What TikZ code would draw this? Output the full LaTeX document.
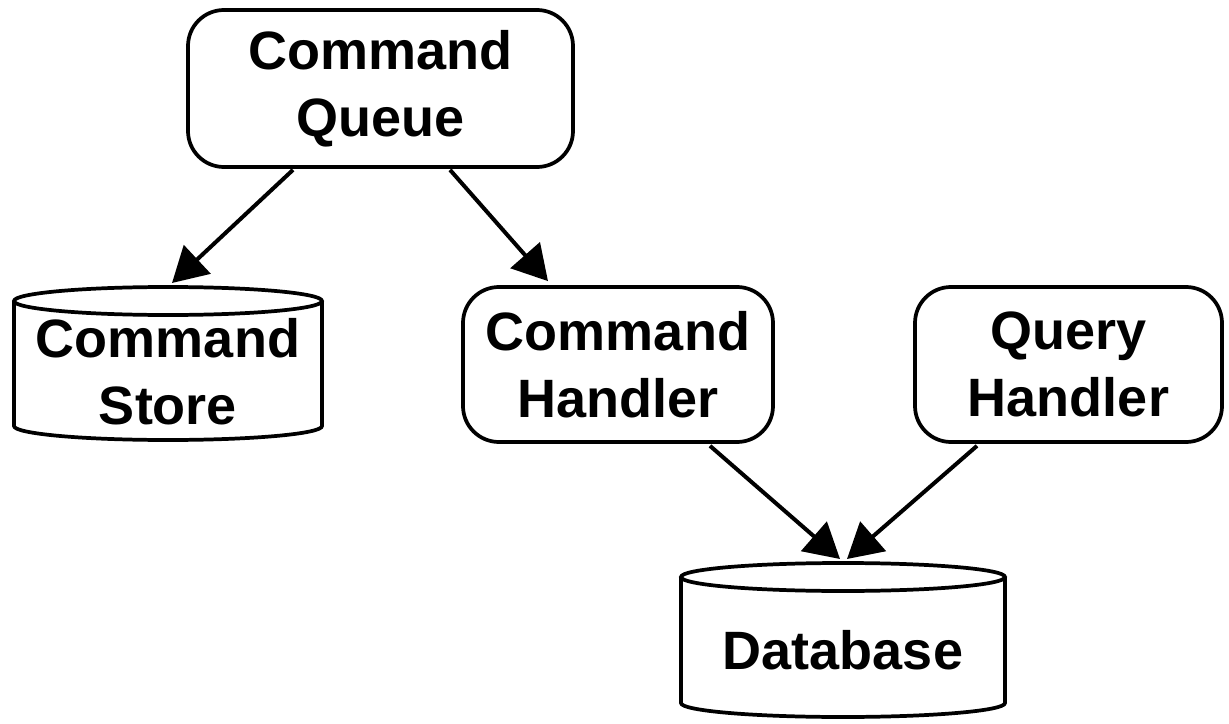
\documentclass[tikz,border=0pt]{standalone}
\usepackage{fontspec}
\setmainfont{Liberation Sans}
\usetikzlibrary{arrows.meta,calc}
\begin{document}
\begin{tikzpicture}[x=0.75pt,y=-0.75pt,
  lbl/.style={font=\fontsize{40.5}{50}\selectfont\bfseries, align=center, inner sep=0pt},
  rbox/.style={draw, line width=2.8pt, rounded corners=27pt, inner sep=0pt, lbl},
  cyl/.style={draw, line width=2.8pt},
  conn/.style={line width=3pt, -{Triangle[length=26pt,width=29pt]}}]
\useasboundingbox (0,0) rectangle (1229,724);
% boxes
\node[rbox, minimum width=288.75pt, minimum height=117.75pt] (cq) at (380.5,88.5) {Command\\Queue};
\node[rbox, minimum width=232.5pt, minimum height=116.25pt] (ch) at (618,364.5) {Command\\Handler};
\node[rbox, minimum width=230.25pt, minimum height=116.25pt] (qh) at (1068.5,364.5) {Query\\Handler};
% command store cylinder
\draw[cyl] (14,301) -- (14,426) arc[start angle=180, end angle=360, x radius=115.5pt, y radius=10.5pt] -- (322,301);
\draw[cyl] (168,301) ellipse[x radius=115.5pt, y radius=10.5pt];
\node[lbl] (cs) at (168,372) {Command\\Store};
% database cylinder
\draw[cyl] (681,577) -- (681,703) arc[start angle=180, end angle=360, x radius=121.5pt, y radius=10.5pt] -- (1005,577);
\draw[cyl] (843,577) ellipse[x radius=121.5pt, y radius=10.5pt];
\node[lbl] (db) at (843,650) {Database};
% connector end points
\coordinate (cqL) at ($(cq.south)+(-87.5,1)$);
\coordinate (cqR) at ($(cq.south)+(69.5,1)$);
\coordinate (csT) at ($(cs.center)+(4,-89)$);
\coordinate (chT) at ($(ch.north)+(-70,-4)$);
\coordinate (chB) at ($(ch.south)+(92,2)$);
\coordinate (qhB) at ($(qh.south)+(-91.5,2)$);
\coordinate (dbL) at ($(db.center)+(-3,-91)$);
\coordinate (dbR) at ($(db.center)+(4,-91)$);
\draw[conn] (cqL) -- (csT);
\draw[conn] (cqR) -- (chT);
\draw[conn] (chB) -- (dbL);
\draw[conn] (qhB) -- (dbR);
\end{tikzpicture}
\end{document}
